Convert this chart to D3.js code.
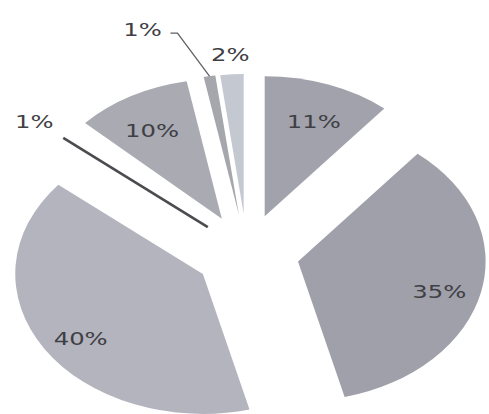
<!DOCTYPE html>
<html>
<head>
<meta charset="utf-8">
<script src="https://cdn.jsdelivr.net/npm/d3@7"></script>
<style>
  html, body { margin: 0; padding: 0; background: #ffffff; }
  svg { display: block; }
</style>
</head>
<body>
<svg id="chart" width="489" height="414"></svg>
<script>
// Slice shares in percent, clockwise from 12 o'clock
const shares = [11, 35, 40, 1, 10, 1, 2];
const shareLabels = ["11%", "35%", "40%", "1%", "10%", "1%", "2%"];

// Fill for each slice
const sliceFills = ["#a1a2ab", "#9fa0a9", "#b3b4be", "#ffffff", "#a9aab2", "#a5a7ad", "#c4c8d1"];
// How each label is placed: inside the wedge, beside its edge, outside, or with a leader line
const labelModes = ["inside", "inside", "inside", "edge", "inside", "leader", "outside"];

const width = 489, height = 414;
const cx = 247, cy = 253;     // pie centre before explosion
const R = 140;                // vertical radius
const kx = 1.34;              // horizontal stretch of the pie
const explode = 39;           // distance each slice is pulled out
const labelFont = "'DejaVu Sans', Verdana, sans-serif";

const svg = d3.select("#chart");

const pie = d3.pie().sort(null).value(d => d);
const arcs = pie(shares);
const arcGen = d3.arc().innerRadius(0).outerRadius(R);

// point at radius r and angle a (radians, clockwise from top) around an origin
const polar = (o, r, a) => [o[0] + kx * r * Math.sin(a), o[1] - r * Math.cos(a)];

const slices = arcs.map((d, i) => {
  const mid = (d.startAngle + d.endAngle) / 2;
  const apex = polar([cx, cy], explode, mid);
  return { d, i, mid, apex };
});

// wedges
const wedge = svg.append("g").selectAll("g")
  .data(slices)
  .join("g")
  .attr("transform", s => `translate(${s.apex[0]},${s.apex[1]})`);

wedge.append("path")
  .attr("transform", `scale(${kx},1)`)
  .attr("d", s => arcGen(s.d))
  .attr("fill", s => sliceFills[s.i]);

// the near-white sliver is outlined along its leading edge
const edgeSlices = slices.filter(s => labelModes[s.i] === "edge");
svg.append("g").selectAll("line")
  .data(edgeSlices)
  .join("line")
  .attr("x1", s => s.apex[0])
  .attr("y1", s => s.apex[1])
  .attr("x2", s => polar(s.apex, R, s.d.startAngle)[0])
  .attr("y2", s => polar(s.apex, R, s.d.startAngle)[1])
  .attr("stroke", "#4b4b50")
  .attr("stroke-width", 2.6);

// leader line for the narrow top slice
const leaderSlices = slices.filter(s => labelModes[s.i] === "leader");
const leaderPts = s => {
  const p0 = polar(s.apex, R, s.mid);
  const p1 = [p0[0] - 32, p0[1] - 43];
  const p2 = [p1[0] - 7, p1[1]];
  return [p0, p1, p2];
};
svg.append("g").selectAll("path")
  .data(leaderSlices)
  .join("path")
  .attr("d", s => d3.line()(leaderPts(s)))
  .attr("fill", "none")
  .attr("stroke", "#606066")
  .attr("stroke-width", 1.3);

// label positions
function labelPos(s) {
  const mode = labelModes[s.i];
  if (mode === "inside") {
    const p = polar(s.apex, 108, s.mid);
    return { x: p[0], y: p[1] + 7 };
  }
  if (mode === "edge") {
    const p = polar(s.apex, R * 1.2, s.d.startAngle);
    return { x: p[0], y: p[1] + 2 };
  }
  if (mode === "outside") {
    const p = polar(s.apex, R * 1.14, s.mid);
    return { x: p[0], y: p[1] };
  }
  const end = leaderPts(s)[2];
  return { x: end[0] - 28, y: end[1] - 4 };
}

svg.append("g").selectAll("text")
  .data(slices)
  .join("text")
  .attr("transform", s => {
    const p = labelPos(s);
    return `translate(${p.x},${p.y}) scale(1.35,1)`;
  })
  .attr("text-anchor", "middle")
  .attr("dominant-baseline", "central")
  .attr("font-family", labelFont)
  .attr("font-size", 18)
  .attr("fill", "#3f3f45")
  .text(s => shareLabels[s.i]);
</script>
</body>
</html>
